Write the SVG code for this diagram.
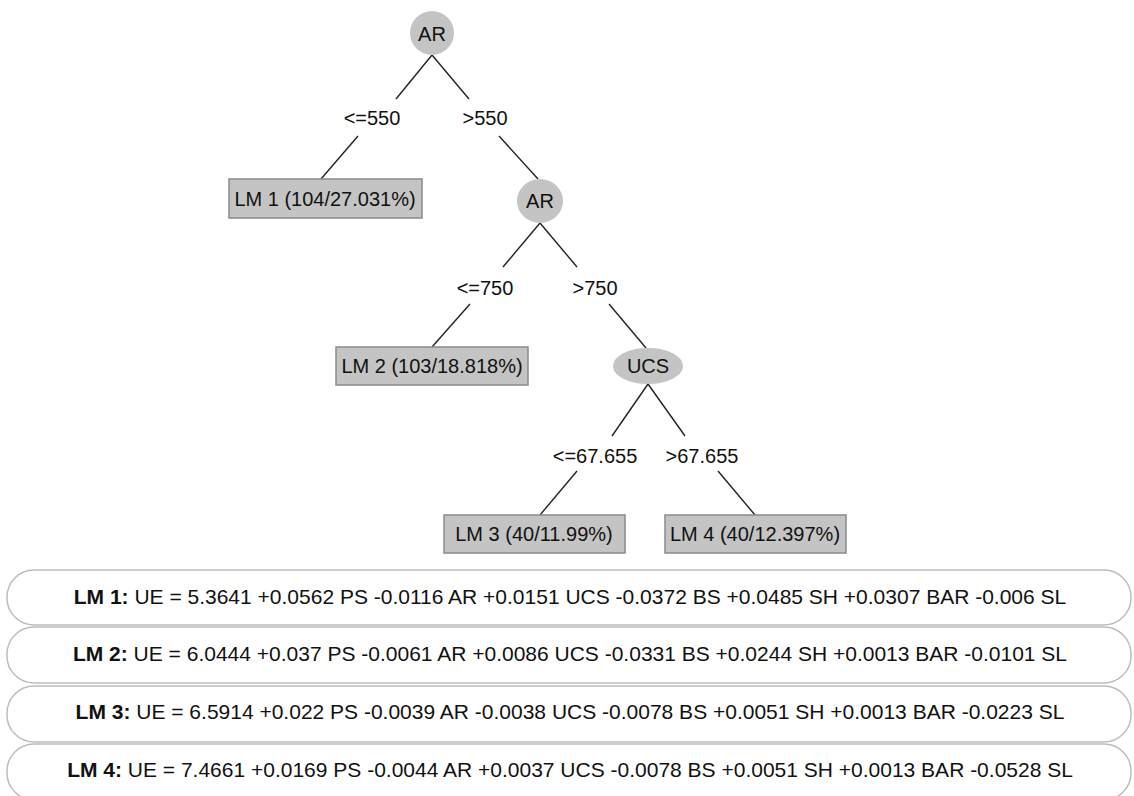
<svg xmlns="http://www.w3.org/2000/svg" width="1134" height="796" viewBox="0 0 1134 796">
<style>
text{font-family:"Liberation Sans",Arial,sans-serif;fill:#111}
.lbl{font-size:20px;text-anchor:middle}
.nd{fill:#c4c4c4}
.box{fill:#c4c4c4;stroke:#8a8a8a;stroke-width:1.5}
.edge{stroke:#222;stroke-width:1.4;fill:none}
.eq{fill:#fff;stroke:#bdbdbd;stroke-width:1.5}
.eqt{font-size:21px;text-anchor:middle}
</style>
<rect width="1134" height="796" fill="#fff"/>
<g id="connectors">
<line class="edge" x1="432" y1="55" x2="396" y2="99"/>
<line class="edge" x1="432" y1="55" x2="469" y2="99"/>
<line class="edge" x1="358" y1="136" x2="321" y2="179"/>
<line class="edge" x1="499" y1="136" x2="538" y2="179"/>
<line class="edge" x1="540" y1="223" x2="503" y2="267"/>
<line class="edge" x1="540" y1="223" x2="577" y2="267"/>
<line class="edge" x1="470" y1="304" x2="432" y2="347"/>
<line class="edge" x1="609" y1="304" x2="646" y2="348"/>
<line class="edge" x1="648" y1="384" x2="612" y2="436"/>
<line class="edge" x1="648" y1="384" x2="685" y2="436"/>
<line class="edge" x1="577" y1="471" x2="540" y2="515"/>
<line class="edge" x1="718" y1="471" x2="755" y2="515"/>
<text class="lbl" x="372" y="125">&lt;=550</text>
<text class="lbl" x="485" y="125">&gt;550</text>
<text class="lbl" x="485" y="295">&lt;=750</text>
<text class="lbl" x="595" y="295">&gt;750</text>
<text class="lbl" x="595" y="463">&lt;=67.655</text>
<text class="lbl" x="702" y="463">&gt;67.655</text>
</g>
<g id="n-ar1"><ellipse class="nd" cx="432" cy="33" rx="22" ry="22"/><text class="lbl" x="432" y="41">AR</text></g>
<g id="n-lm1"><rect class="box" x="229" y="179" width="193" height="39"/><text class="lbl" x="325" y="206">LM 1 (104/27.031%)</text></g>
<g id="n-ar2"><ellipse class="nd" cx="540" cy="201" rx="23" ry="22"/><text class="lbl" x="540" y="208">AR</text></g>
<g id="n-lm2"><rect class="box" x="336" y="347" width="192" height="38"/><text class="lbl" x="432" y="373">LM 2 (103/18.818%)</text></g>
<g id="n-ucs"><ellipse class="nd" cx="648" cy="366" rx="35" ry="18"/><text class="lbl" x="648" y="373">UCS</text></g>
<g id="n-lm3"><rect class="box" x="444" y="515" width="181" height="38"/><text class="lbl" x="534" y="541">LM 3 (40/11.99%)</text></g>
<g id="n-lm4"><rect class="box" x="665" y="515" width="181" height="38"/><text class="lbl" x="755" y="541">LM 4 (40/12.397%)</text></g>
<g id="eq1"><rect class="eq" x="7" y="570" width="1124" height="55" rx="27"/><text class="eqt" x="570" y="604"><tspan font-weight="bold">LM 1:</tspan> UE = 5.3641 +0.0562 PS -0.0116 AR +0.0151 UCS -0.0372 BS +0.0485 SH +0.0307 BAR -0.006 SL</text></g>
<g id="eq2"><rect class="eq" x="7" y="627" width="1124" height="56" rx="27"/><text class="eqt" x="570" y="661"><tspan font-weight="bold">LM 2:</tspan> UE = 6.0444 +0.037 PS -0.0061 AR +0.0086 UCS -0.0331 BS +0.0244 SH +0.0013 BAR -0.0101 SL</text></g>
<g id="eq3"><rect class="eq" x="7" y="686" width="1124" height="56" rx="27"/><text class="eqt" x="570" y="719"><tspan font-weight="bold">LM 3:</tspan> UE = 6.5914 +0.022 PS -0.0039 AR -0.0038 UCS -0.0078 BS +0.0051 SH +0.0013 BAR -0.0223 SL</text></g>
<g id="eq4"><rect class="eq" x="7" y="744" width="1124" height="56" rx="27"/><text class="eqt" x="570" y="777"><tspan font-weight="bold">LM 4:</tspan> UE = 7.4661 +0.0169 PS -0.0044 AR +0.0037 UCS -0.0078 BS +0.0051 SH +0.0013 BAR -0.0528 SL</text></g>
</svg>
